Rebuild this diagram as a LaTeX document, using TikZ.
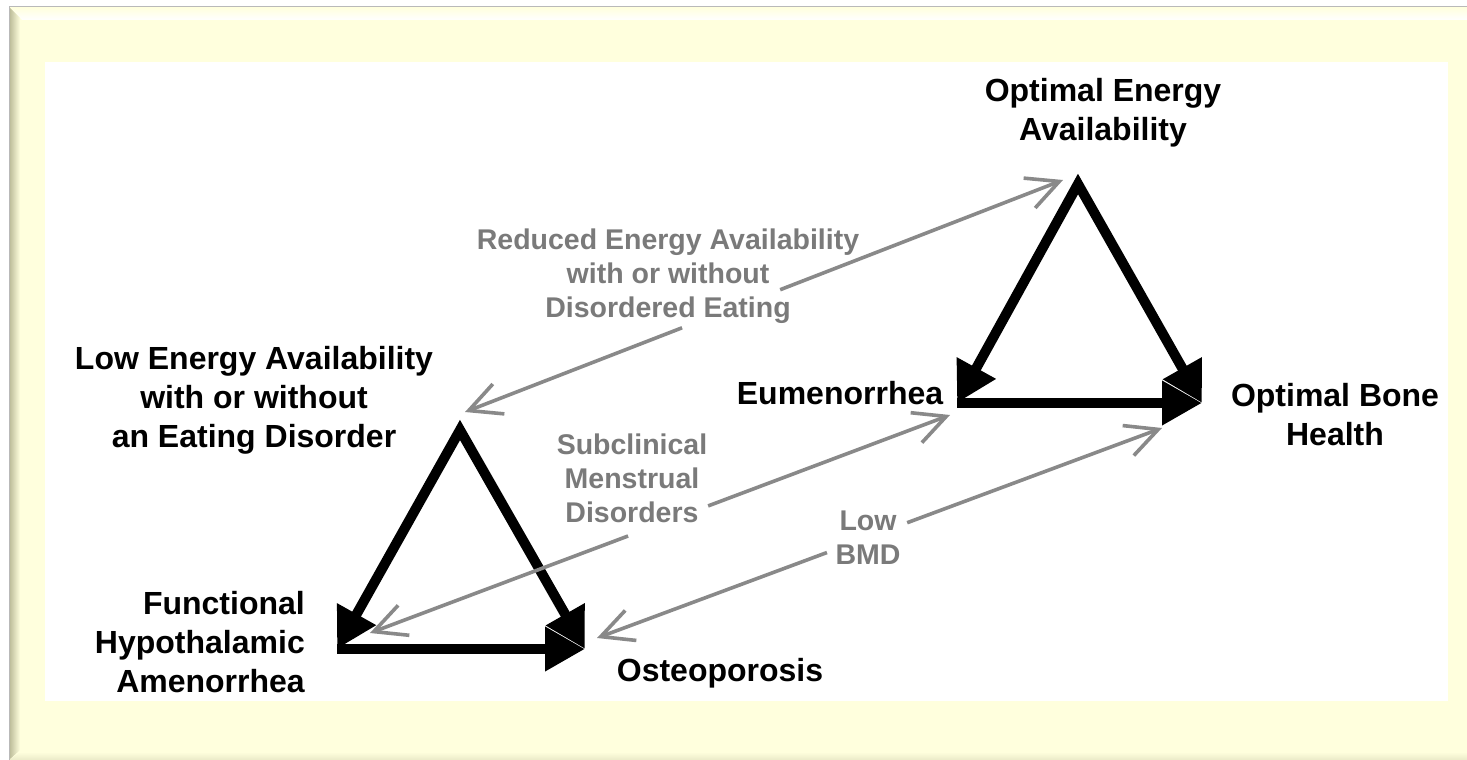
\documentclass[tikz,border=0pt]{standalone}
\usepackage{fontspec}
\setmainfont{Liberation Sans}
\usetikzlibrary{arrows.meta}
\definecolor{bgyellow}{RGB}{255,255,221}
\definecolor{labelgray}{RGB}{122,122,122}
\definecolor{arrowgray}{RGB}{137,137,137}
\definecolor{bevelgray}{RGB}{185,185,150}
\begin{document}
\begin{tikzpicture}[x=1pt,y=-1pt,
  blacklbl/.style={font=\bfseries\fontsize{32}{39}\selectfont, inner sep=0pt, text=black},
  graylbl/.style={font=\bfseries\fontsize{28.5}{34}\selectfont, inner sep=0pt, text=labelgray, align=center, anchor=north},
  bigarrow/.style={line width=10pt, -{Triangle[length=40pt,width=42pt]}},
  bigpair/.style={line width=10pt, line join=miter, {Triangle[length=40pt,width=42pt]}-{Triangle[length=40pt,width=42pt]}},
  thinarrow/.style={line width=3.6pt, draw=arrowgray, -{Straight Barb[length=32pt,width=32pt]}},
]
\useasboundingbox (0,0) rectangle (1467,760);
% frame
\fill[white] (0,0) rectangle (1467,760);
\fill[bgyellow] (9,7) rectangle (1467,760);
\shade[top color=bgyellow, bottom color=white] (9,7) -- (1467,7) -- (1467,20) -- (22,20) -- cycle;
\shade[left color=bevelgray, right color=bgyellow] (9,7) -- (20,18) -- (20,750) -- (9,760) -- cycle;
\shade[top color=bgyellow, bottom color=bgyellow!70!bevelgray] (9,760) -- (20,752) -- (1467,752) -- (1467,760) -- cycle;
\draw[gray!55, line width=1pt] (9,760) -- (9,7) -- (1467,7);
\fill[white] (45,62) rectangle (1448,701);

% labels
\node[blacklbl, align=center, anchor=north] (oea) at (1103,78.5) {Optimal Energy\\Availability};
\node[blacklbl, align=center, anchor=north] (lea) at (254,346.5) {Low Energy Availability\\with or without\\an Eating Disorder};
\node[blacklbl, anchor=north] (eum) at (840,381.5) {Eumenorrhea};
\node[blacklbl, align=center, anchor=north] (obh) at (1335,383.5) {Optimal Bone\\Health};
\node[blacklbl, align=right, anchor=north east] (fha) at (305,591.5) {Functional\\Hypothalamic\\Amenorrhea};
\node[blacklbl, anchor=north] (ost) at (720,658.5) {Osteoporosis};

\node[graylbl] (red) at (668,229) {Reduced Energy Availability\\with or without\\Disordered Eating};
\node[graylbl] (sub) at (632,434) {Subclinical\\Menstrual\\Disorders};
\node[graylbl] (bmd) at (868,511) {Low\\BMD};

% triangle corners
\coordinate (A1) at (460,430);
\coordinate (B1) at (337,649);
\coordinate (C1) at (585,649);
\coordinate (A2) at (1078,184);
\coordinate (B2) at (957,403);
\coordinate (C2) at (1202,403);

% black triangles
\draw[bigpair] (B1) -- (A1) -- (C1);
\draw[bigarrow] (B1) -- (C1);
\draw[bigpair] (B2) -- (A2) -- (C2);
\draw[bigarrow] (B2) -- (C2);

% gray arrows
\coordinate (P1) at (465,412);
\coordinate (Q1) at (1063,180);
\coordinate (P2) at (370,633);
\coordinate (Q2) at (950,415);
\coordinate (P3) at (597,638);
\coordinate (Q3) at (1162,428);
\path (P1) -- (Q1) coordinate[pos=0.363] (g1a) coordinate[pos=0.527] (g1b);
\path (P2) -- (Q2) coordinate[pos=0.445] (g2a) coordinate[pos=0.583] (g2b);
\path (P3) -- (Q3) coordinate[pos=0.407] (g3a) coordinate[pos=0.549] (g3b);
\draw[thinarrow] (g1a) -- (P1);
\draw[thinarrow] (g1b) -- (Q1);
\draw[thinarrow] (g2a) -- (P2);
\draw[thinarrow] (g2b) -- (Q2);
\draw[thinarrow] (g3a) -- (P3);
\draw[thinarrow] (g3b) -- (Q3);
\end{tikzpicture}
\end{document}
